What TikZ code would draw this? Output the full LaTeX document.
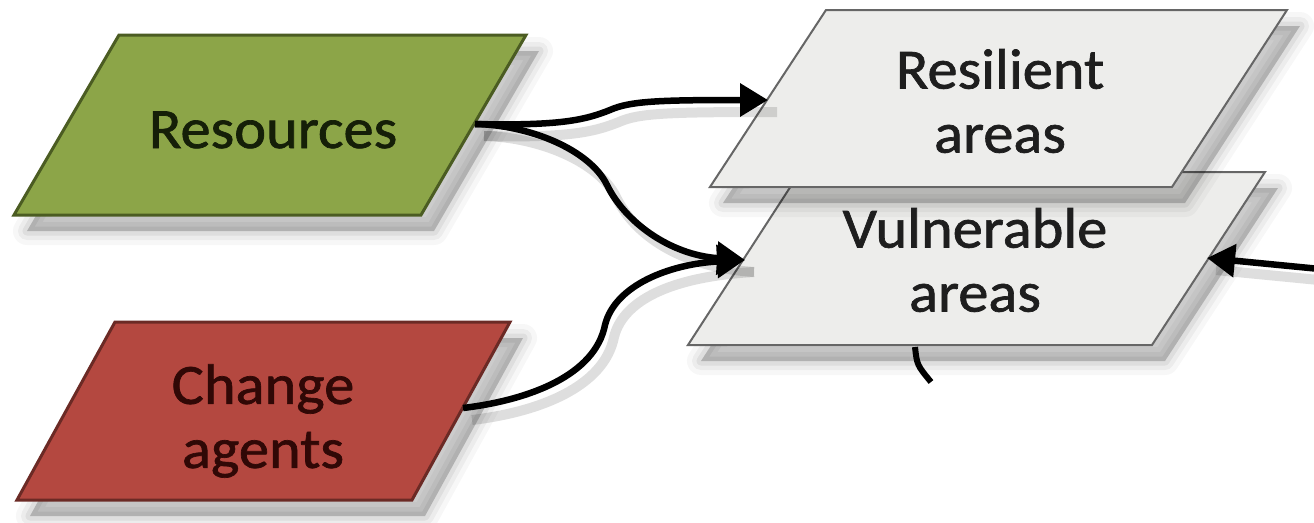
\documentclass[tikz,border=0pt]{standalone}
\usepackage{fontspec}
\setmainfont{Carlito}[FakeStretch=1.06,FakeBold=1.2]
\usetikzlibrary{arrows.meta}
\definecolor{resfill}{HTML}{8CA548}
\definecolor{resline}{HTML}{4B5C22}
\definecolor{restext}{HTML}{151F08}
\definecolor{chgfill}{HTML}{B44840}
\definecolor{chgline}{HTML}{6B2A25}
\definecolor{chgtext}{HTML}{300806}
\definecolor{areafill}{HTML}{EDEDEB}
\definecolor{arealine}{HTML}{666666}
\definecolor{areatext}{HTML}{1E1E1E}
\newcommand{\softshadow}[1]{%
  \begin{scope}[shift={(13,16)}]
    \foreach \lw/\op in {28/0.03,18/0.045,9/0.06}{%
      \draw[black,opacity=\op,line width=\lw pt,line join=round] #1;}
    \fill[black,opacity=0.2] #1;
  \end{scope}}
\tikzset{
  lbl/.style={font=\fontsize{57}{64}\selectfont, align=center, inner sep=0pt},
  resbox/.style={fill=resfill, draw=resline, line width=3pt, line join=miter},
  chgbox/.style={fill=chgfill, draw=chgline, line width=3pt, line join=miter},
  areabox/.style={fill=areafill, draw=arealine, line width=2pt, line join=miter},
  conn/.style={line width=6.5pt, black, -{Triangle[length=28pt,width=32pt]}},
  connline/.style={line width=6pt, black},
  connshadow/.style={line width=10pt, black, opacity=0.13,
    transform canvas={shift={(9,12)}}},
}
\begin{document}
\begin{tikzpicture}[x=1pt,y=-1pt]
\useasboundingbox (0,0) rectangle (1314,522);
\fill[white] (0,0) rectangle (1314,522);

% shadows and boxes
\softshadow{(119,35) -- (526,35) -- (421,215) -- (14,215) -- cycle}
\path[resbox] (119,35) -- (526,35) -- (421,215) -- (14,215) -- cycle;
\softshadow{(115,322) -- (510,322) -- (412,500) -- (17,500) -- cycle}
\path[chgbox] (115,322) -- (510,322) -- (412,500) -- (17,500) -- cycle;
\softshadow{(800,172) -- (1265,172) -- (1152,345) -- (688,345) -- cycle}
\path[areabox] (800,172) -- (1265,172) -- (1152,345) -- (688,345) -- cycle;
\softshadow{(826,10) -- (1287,10) -- (1172,187) -- (710,187) -- cycle}
\path[areabox] (826,10) -- (1287,10) -- (1172,187) -- (710,187) -- cycle;

% labels
\node[lbl, text=restext, anchor=base] (res) at (273,148) {Resources};
\node[lbl, text=chgtext] (chg) at (263,421) {Change\\agents};
\node[lbl, text=areatext] (resil) at (1000,101) {Resilient\\areas};
\node[lbl, text=areatext] (vuln) at (975,260) {Vulnerable\\areas};

% connection points
\coordinate (resE) at (475,124);
\coordinate (chgE) at (463,408);
\coordinate (resilW) at (768,100);
\coordinate (vulnW) at (745,260);
\coordinate (vulnE) at (1207,258);
\coordinate (vulnS) at (915,347);
\coordinate (farR) at (1320,269);
\coordinate (farS) at (931,382);

% connector shadows
\draw[connshadow] (resE) .. controls (560,126) and (585,120) .. (610,110)
   .. controls (630,101) and (660,100) .. (resilW);
\draw[connshadow] (resE) .. controls (530,125) and (590,150) .. (607,185)
   .. controls (625,222) and (670,255) .. (vulnW);
\draw[connshadow] (chgE) .. controls (530,400) and (595,375) .. (605,325)
   .. controls (615,285) and (670,264) .. (vulnW);
\draw[connshadow] (farR) -- (vulnE);

% connectors
\draw[conn] (resE) .. controls (560,126) and (585,120) .. (610,110)
   .. controls (630,101) and (660,100) .. (resilW);
\draw[conn] (resE) .. controls (530,125) and (590,150) .. (607,185)
   .. controls (625,222) and (670,255) .. (vulnW);
\draw[conn] (chgE) .. controls (530,400) and (595,375) .. (605,325)
   .. controls (615,285) and (670,264) .. (vulnW);
\draw[conn] (farR) -- (vulnE);
\draw[connline] (vulnS) .. controls (917,365) .. (farS);
\end{tikzpicture}
\end{document}
